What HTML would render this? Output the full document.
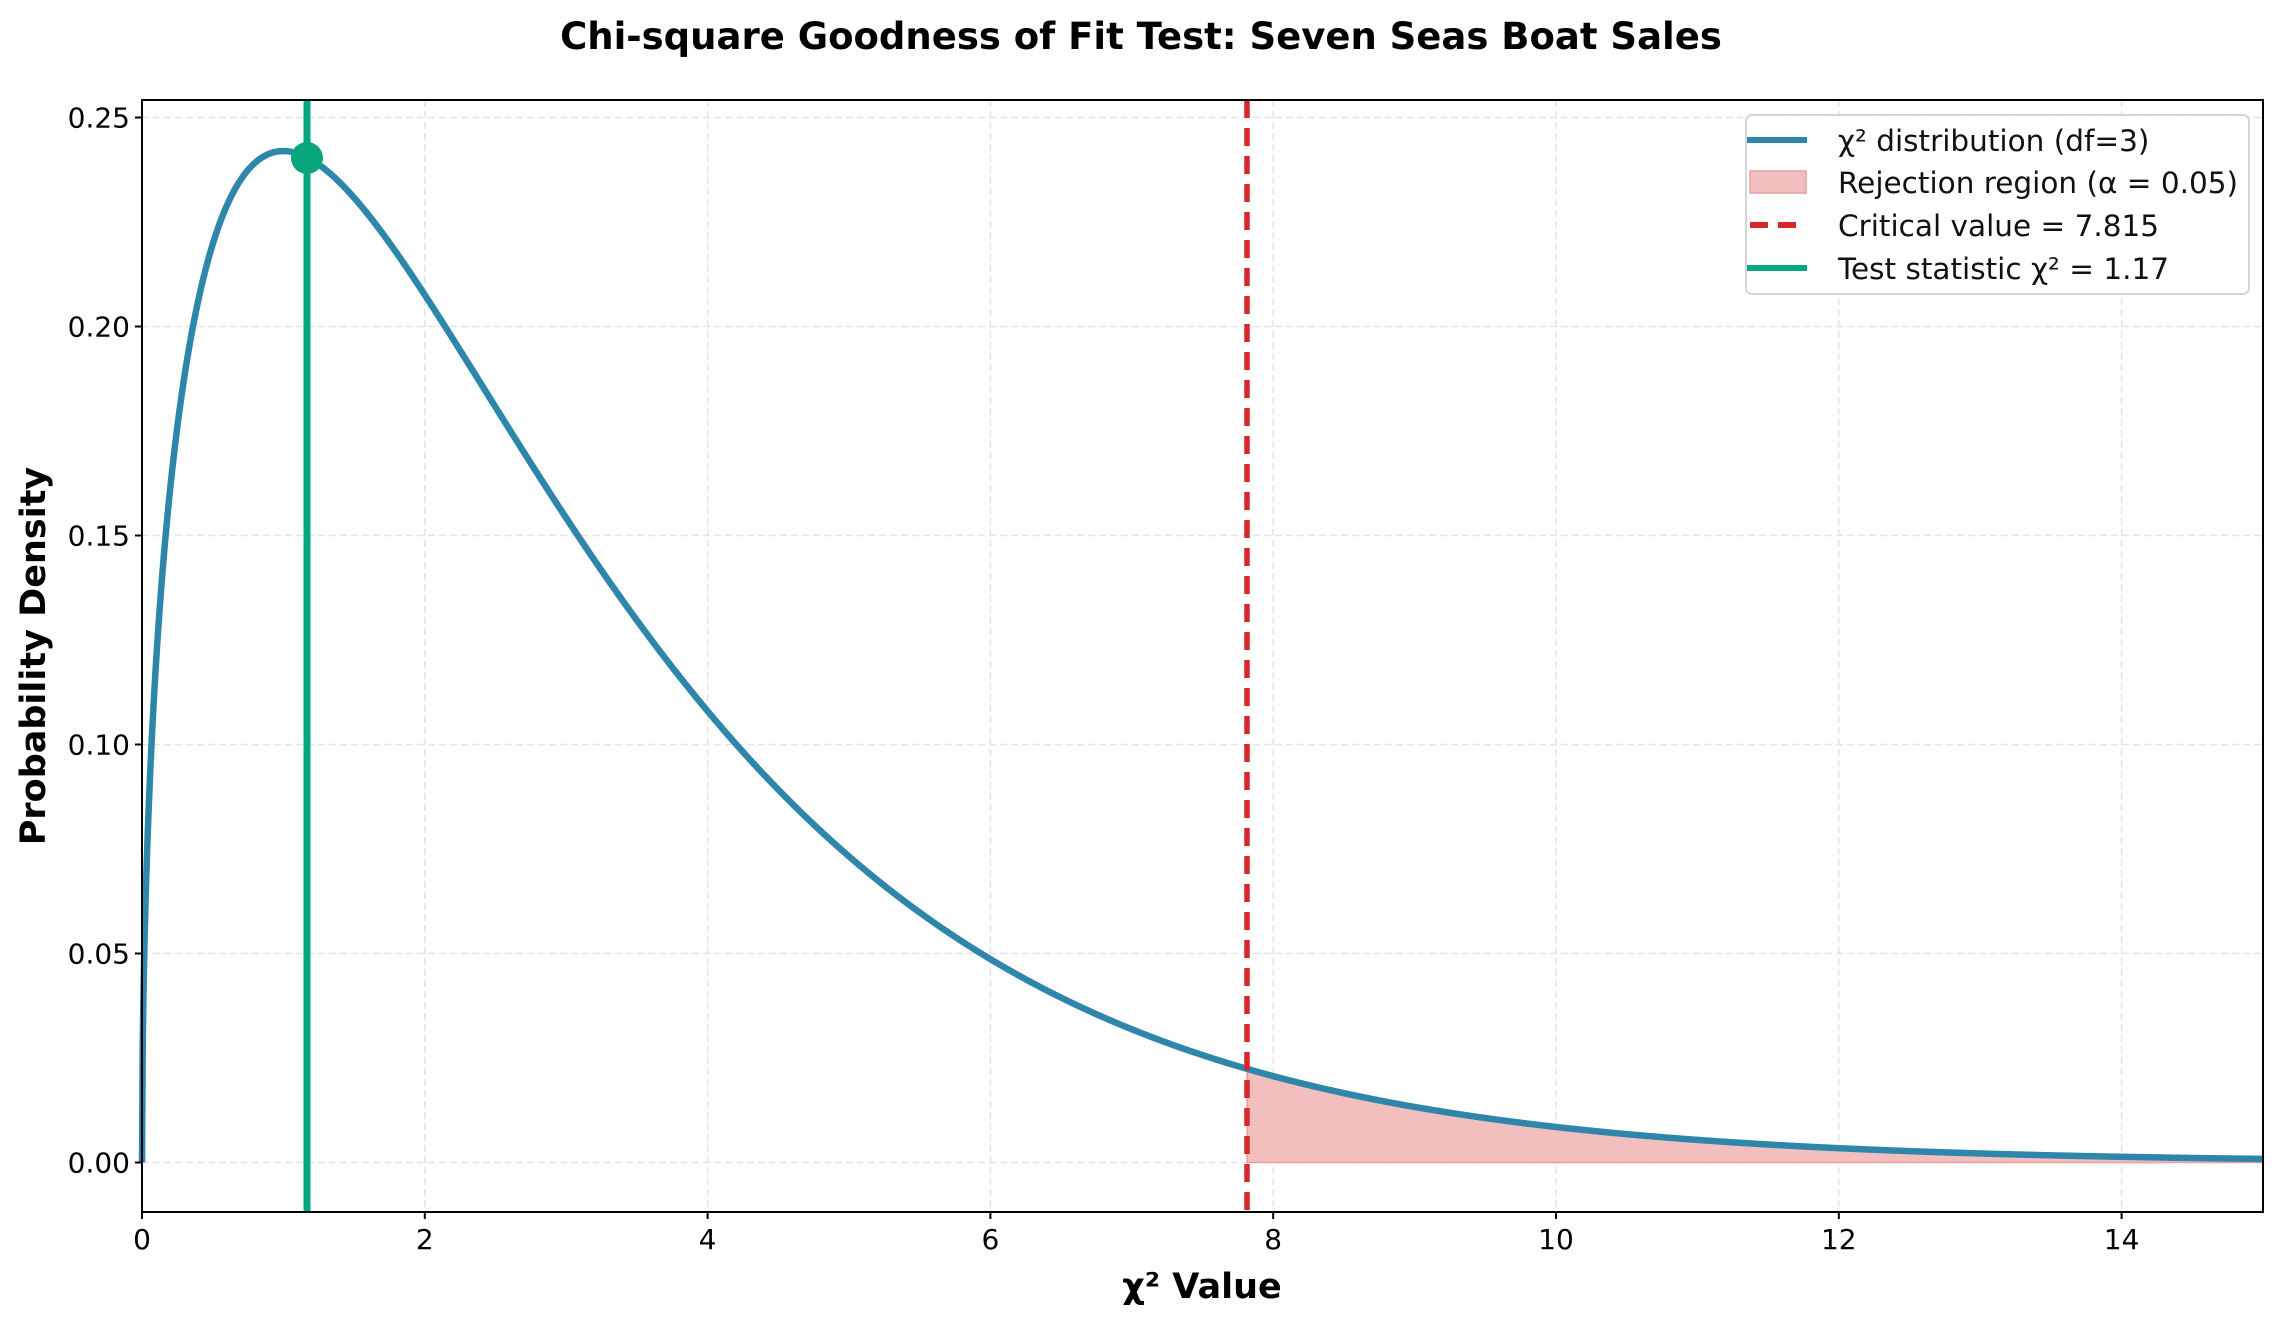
<!DOCTYPE html>
<html><head><meta charset="utf-8"><style>
html,body{margin:0;padding:0;background:#fff;}
svg{display:block;font-family:"DejaVu Sans","Liberation Sans",sans-serif;}
</style></head><body>
<svg id="s" width="2282" height="1321" viewBox="0 0 2282 1321" xmlns="http://www.w3.org/2000/svg">
<rect width="2282" height="1321" fill="#fff"/>
<g id="grid" stroke="#e3e3e3" stroke-width="1.5" stroke-dasharray="7,4"></g>
<path id="fill" fill="#f2bebe" stroke="#e8a0a0" stroke-width="1.5"/>
<path id="curve" fill="none" stroke="#2e86ab" stroke-width="6.5" stroke-linejoin="round"/>
<line x1="1247" y1="100" x2="1247" y2="1212" stroke="#d62828" stroke-width="5.5" stroke-dasharray="18,10"/>
<line x1="307" y1="100" x2="307" y2="1212" stroke="#06a77d" stroke-width="7"/>
<circle cx="307" cy="158" r="16" fill="#06a77d"/>
<rect x="142" y="100" width="2121" height="1112" fill="none" stroke="#000" stroke-width="2"/>
<g id="ticks" font-size="28" fill="#000"></g>
<text x="1141" y="49" text-anchor="middle" font-size="37" font-weight="bold">Chi-square Goodness of Fit Test: Seven Seas Boat Sales</text>
<text x="1202" y="1298" text-anchor="middle" font-size="35" font-weight="bold">χ² Value</text>
<text transform="translate(45,656) rotate(-90)" text-anchor="middle" font-size="35" font-weight="bold">Probability Density</text>
<g>
<rect x="1746" y="115" width="503" height="179" rx="6" fill="#fff" fill-opacity="0.85" stroke="#d5d5d5" stroke-width="2"/>
<line x1="1747" y1="140" x2="1807" y2="140" stroke="#2e86ab" stroke-width="6"/>
<rect x="1750" y="171" width="56" height="22" fill="#f2bebe" stroke="#e8a0a0" stroke-width="1.5"/>
<line x1="1750" y1="225" x2="1805" y2="225" stroke="#d62828" stroke-width="6" stroke-dasharray="18,10"/>
<line x1="1747" y1="268" x2="1807" y2="268" stroke="#06a77d" stroke-width="6"/>
<g font-size="29.5" fill="#111">
<text x="1838" y="151">χ² distribution (df=3)</text>
<text x="1838" y="193">Rejection region (α = 0.05)</text>
<text x="1838" y="236">Critical value = 7.815</text>
<text x="1838" y="279">Test statistic χ² = 1.17</text>
</g>
</g>
</svg>
<script>
var X0=142,SX=141.4,Y0=1162.5,SY=4180;
function px(x){return X0+x*SX} function py(y){return Y0-y*SY}
function f(x){return Math.sqrt(x)*Math.exp(-x/2)/Math.sqrt(2*Math.PI)}
var d="",fd="";
for(var i=0;i<=3000;i++){var x=15*i/3000;
d+=(i?"L":"M")+px(x).toFixed(2)+","+py(f(x)).toFixed(2);}
document.getElementById("curve").setAttribute("d",d);
fd="M"+px(7.815)+","+py(0);
for(var i=0;i<=400;i++){var x=7.815+(15-7.815)*i/400;fd+="L"+px(x).toFixed(2)+","+py(f(x)).toFixed(2);}
fd+="L"+px(15)+","+py(0)+"Z";
document.getElementById("fill").setAttribute("d",fd);
var g=document.getElementById("grid"),tk=document.getElementById("ticks"),ns="http://www.w3.org/2000/svg";
function el(p,n,a,t){var e=document.createElementNS(ns,n);for(var k in a)e.setAttribute(k,a[k]);if(t)e.textContent=t;p.appendChild(e);}
for(var x=0;x<=14;x+=2){var X=px(x);
 if(x>0)el(g,"line",{x1:X,y1:100,x2:X,y2:1212});
 el(tk,"line",{x1:X,y1:1212,x2:X,y2:1219,stroke:"#000","stroke-width":2});
 el(tk,"text",{x:X,y:1249,"text-anchor":"middle"},String(x));}
for(var j=0;j<=5;j++){var v=j*0.05,Y=py(v);
 el(g,"line",{x1:142,y1:Y,x2:2263,y2:Y});
 el(tk,"line",{x1:135,y1:Y,x2:142,y2:Y,stroke:"#000","stroke-width":2});
 el(tk,"text",{x:130,y:Y+10,"text-anchor":"end"},v.toFixed(2));}
</script>
</body></html>
